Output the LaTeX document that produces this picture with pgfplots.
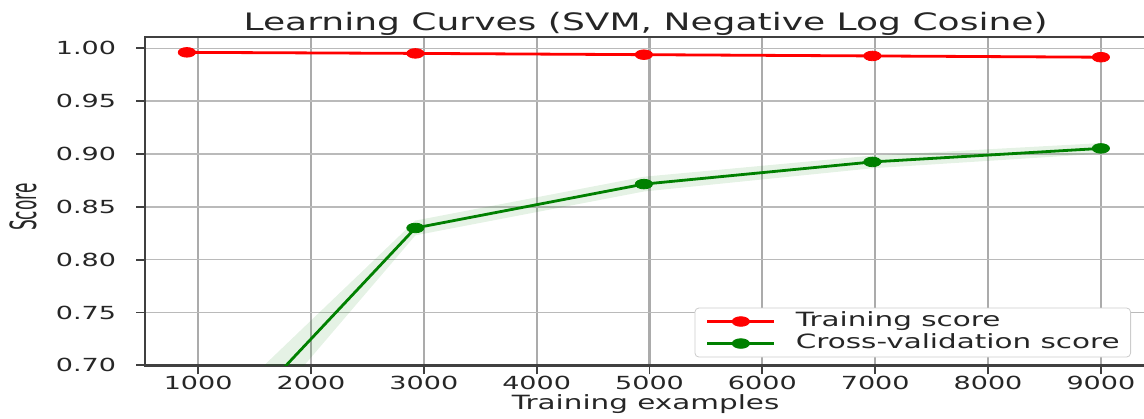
\documentclass[border=0pt]{standalone}
\usepackage{fontspec}
\setmainfont{DejaVu Sans}[FakeStretch=1.5]
\newfontfamily\ylabfont{DejaVu Sans}[FakeStretch=0.47]
\usepackage{pgfplots}
\pgfplotsset{compat=1.18}
\usepgfplotslibrary{fillbetween}
\definecolor{mplgreen}{HTML}{008000}
\definecolor{mplred}{HTML}{FF0000}

\pgfplotstableread{
x     tr      trup    trlo    cv     cvup   cvlo
900   0.9962  0.9972  0.9952  0.600  0.630  0.570
2925  0.9952  0.9962  0.9942  0.830  0.837  0.823
4950  0.9940  0.9950  0.9930  0.8715 0.8785 0.8645
6975  0.9928  0.9938  0.9918  0.8925 0.8985 0.8865
9000  0.9916  0.9926  0.9906  0.9053 0.9103 0.9003
}\datatable

\begin{document}
\begin{tikzpicture}
\begin{axis}[
  at={(0,0)}, anchor=south west,
  width=500pt, height=164pt, scale only axis,
  xmin=530, xmax=9400, ymin=0.70, ymax=1.0107,
  xtick={1000,2000,3000,4000,5000,6000,7000,8000,9000},
  ytick={0.70,0.75,0.80,0.85,0.90,0.95,1.00},
  xtick pos=bottom, ytick pos=left,
  tick align=outside,
  major tick length=4.5pt,
  tick style={black!75, line width=0.9pt},
  axis line style={black!75, line width=1.2pt},
  grid=major,
  x grid style={black!33, line width=1.1pt},
  y grid style={black!27, line width=0.8pt},
  /pgf/number format/assume math mode=true,
  xticklabel style={/pgf/number format/1000 sep={}, yshift=2.5pt},
  yticklabel style={/pgf/number format/.cd, fixed, fixed zerofill, precision=2, /tikz/.cd, xshift=-6.5pt},
  ticklabel style={font=\fontsize{9}{11}\selectfont, text=black!85},
  every axis title shift=0pt,
  title={Learning Curves (SVM, Negative Log Cosine)},
  title style={at={(0.5,1)}, anchor=base, yshift=3.5pt, font=\fontsize{12}{14}\selectfont, text=black!85},
  xlabel={Training examples},
  xlabel style={at={(axis description cs:0.5,0)}, anchor=base, yshift=-22pt, font=\fontsize{9.8}{11}\selectfont, text=black!85},
  ylabel={Score},
  ylabel style={at={(axis description cs:-0.109,0.482)}, anchor=base, font=\ylabfont\fontsize{18}{20}\selectfont, text=black!85},
  legend style={at={(0.985,0.024)}, anchor=south east, draw=black!20, rounded corners=2pt, fill=white,
    font=\fontsize{9.8}{11}\selectfont, text=black!85, inner xsep=5.5pt, inner ysep=2.25pt,
    row sep=2pt, column sep=10pt, nodes={inner sep=0pt, text height=7pt, text depth=2pt, anchor=west}},
  legend cell align=left,
  legend image code/.code={\draw[mark repeat=2,mark phase=2] plot coordinates {(0pt,0pt) (16.75pt,0pt) (33.5pt,0pt)};},
]
\addplot[draw=none, name path=trup, forget plot] table[x=x, y=trup] {\datatable};
\addplot[draw=none, name path=trlo, forget plot] table[x=x, y=trlo] {\datatable};
\addplot[fill=mplred, fill opacity=0.1, draw=none, forget plot] fill between[of=trup and trlo];
\addplot[draw=none, name path=cvup, forget plot] table[x=x, y=cvup] {\datatable};
\addplot[draw=none, name path=cvlo, forget plot] table[x=x, y=cvlo] {\datatable};
\addplot[fill=mplgreen, fill opacity=0.1, draw=none, forget plot] fill between[of=cvup and cvlo];
\addplot[mplred, line width=1.4pt, mark=*, mark size=2.4pt, mark options={xscale=1.8, solid, fill=mplred, line width=0.4pt}] table[x=x, y=tr] {\datatable};
\addlegendentry{Training score}
\addplot[mplgreen, line width=1.4pt, mark=*, mark size=2.4pt, mark options={xscale=1.8, solid, fill=mplgreen, line width=0.4pt}] table[x=x, y=cv] {\datatable};
\addlegendentry{Cross-validation score}
\end{axis}
\pgfresetboundingbox
\useasboundingbox (-72.5pt,-26.5pt) rectangle (499pt,182.5pt);
\end{tikzpicture}
\end{document}
